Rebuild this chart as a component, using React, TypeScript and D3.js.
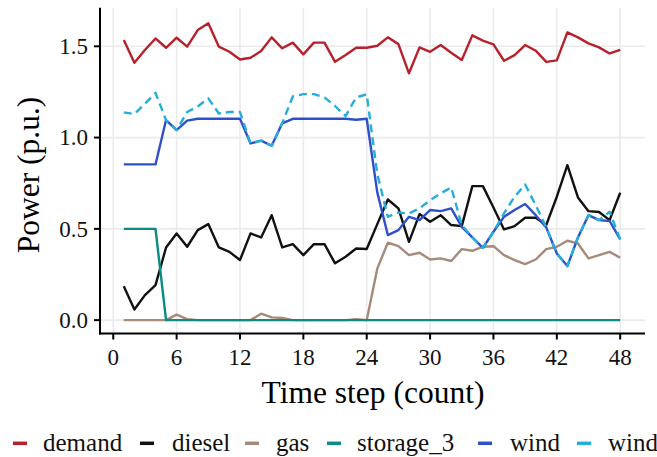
import React from "react";
import * as d3 from "d3";

const timeSteps = [1,2,3,4,5,6,7,8,9,10,11,12,13,14,15,16,17,18,19,20,21,22,23,24,25,26,27,28,29,30,31,32,33,34,35,36,37,38,39,40,41,42,43,44,45,46,47,48];

const demand = [1.534,1.41,1.48,1.543,1.492,1.547,1.498,1.589,1.626,1.498,1.47,1.428,1.437,1.474,1.549,1.489,1.52,1.456,1.52,1.52,1.415,1.452,1.492,1.492,
  1.503,1.549,1.512,1.352,1.494,1.47,1.507,1.465,1.425,1.56,1.531,1.511,1.421,1.452,1.507,1.476,1.415,1.423,1.576,1.549,1.516,1.494,1.461,1.48];

const diesel = [0.186,0.058,0.137,0.192,0.398,0.475,0.402,0.493,0.526,0.398,0.374,0.329,0.475,0.453,0.575,0.398,0.416,0.356,0.416,0.416,0.311,0.347,0.392,0.39,
  0.526,0.661,0.612,0.429,0.581,0.539,0.575,0.521,0.515,0.734,0.734,0.617,0.497,0.515,0.561,0.561,0.521,0.676,0.849,0.672,0.597,0.592,0.548,0.698];

const gas = [0,0,0,0,0,0.03,0.005,0,0,0,0,0,0,0.035,0.015,0.012,0,0,0,0,0,0,0.005,0,
  0.282,0.424,0.405,0.356,0.369,0.332,0.338,0.324,0.389,0.38,0.402,0.405,0.356,0.329,0.307,0.332,0.389,0.402,0.435,0.42,0.338,0.356,0.374,0.342];

const storage3 = [0.5,0.5,0.5,0.5,0,0,0,0,0,0,0,0,0,0,0,0,0,0,0,0,0,0,0,0,
  0,0,0,0,0,0,0,0,0,0,0,0,0,0,0,0,0,0,0,0,0,0,0,0];

const wind = [0.853,0.853,0.853,0.853,1.096,1.041,1.093,1.103,1.103,1.103,1.103,1.103,0.968,0.983,0.955,1.078,1.103,1.103,1.103,1.103,1.103,1.103,1.098,1.103,
  0.70,0.466,0.493,0.566,0.548,0.603,0.597,0.612,0.511,0.453,0.396,0.484,0.566,0.603,0.636,0.575,0.508,0.365,0.296,0.453,0.575,0.548,0.543,0.442];

const windForecast = [1.138,1.129,1.185,1.245,1.096,1.041,1.14,1.17,1.215,1.132,1.14,1.14,0.968,0.983,0.955,1.08,1.225,1.238,1.238,1.22,1.173,1.118,1.22,1.237,
  0.80,0.566,0.59,0.584,0.612,0.657,0.694,0.727,0.521,0.453,0.396,0.484,0.585,0.676,0.743,0.63,0.508,0.365,0.296,0.453,0.575,0.548,0.594,0.442];

const xTicks = [0, 6, 12, 18, 24, 30, 36, 42, 48];
const yTicks = [0, 0.5, 1.0, 1.5];

const seriesNames = ["demand", "diesel", "gas", "storage_3", "wind", "wind"];
const seriesColors = ["#B7212B", "#111111", "#A68A7A", "#0B8A88", "#2E50C8", "#23AEDC"];
const seriesDash = [null, null, null, null, null, "8,5"];
const seriesData = [demand, diesel, gas, storage3, wind, windForecast];

const legendKeyX = [13, 140, 245, 327, 478, 577];
const legendTextX = [43, 172, 276, 357, 510, 608];

const FONT = "Liberation Serif";

export default function App() {
  const W = 657, H = 457;
  const x = d3.scaleLinear().domain([-1.35, 50.35]).range([99, 645]);
  const y = d3.scaleLinear().domain([-0.0815, 1.7115]).range([335, 7.7]);
  const line = d3.line<number>().x((_, i) => x(timeSteps[i])).y((d) => y(d));
  const axisY = 333.5;
  const axisX = 100;

  return (
    <svg width={W} height={H} style={{ position: "absolute", left: 0, top: 0, background: "#fff" }}>
      <rect x={0} y={0} width={W} height={H} fill="#fff" />
      {xTicks.map((t) => (
        <line key={"gx" + t} x1={x(t)} x2={x(t)} y1={7.7} y2={axisY} stroke="#EBEBEB" strokeWidth={1.6} />
      ))}
      {yTicks.map((t) => (
        <line key={"gy" + t} x1={axisX} x2={645} y1={y(t)} y2={y(t)} stroke="#EBEBEB" strokeWidth={1.6} />
      ))}
      {seriesData.map((s, i) => (
        <path key={"s" + i} d={line(s) || ""} fill="none" stroke={seriesColors[i]} strokeWidth={2.4}
          strokeDasharray={seriesDash[i] || undefined} strokeLinejoin="round" />
      ))}
      <line x1={axisX} x2={axisX} y1={7.7} y2={axisY + 1} stroke="#000" strokeWidth={2} />
      <line x1={axisX - 1} x2={645} y1={axisY} y2={axisY} stroke="#000" strokeWidth={2} />
      {xTicks.map((t) => (
        <g key={"tx" + t}>
          <line x1={x(t)} x2={x(t)} y1={axisY} y2={axisY + 6} stroke="#000" strokeWidth={2} />
          <text x={x(t)} y={365} textAnchor="middle" fontFamily={FONT} fontSize={23} fill="#111">{t}</text>
        </g>
      ))}
      {yTicks.map((t) => (
        <g key={"ty" + t}>
          <line x1={axisX - 6} x2={axisX} y1={y(t)} y2={y(t)} stroke="#000" strokeWidth={2} />
          <text x={88} y={y(t)} dy="0.34em" textAnchor="end" fontFamily={FONT} fontSize={23} fill="#111">{t.toFixed(1)}</text>
        </g>
      ))}
      <text x={373} y={403} textAnchor="middle" fontFamily={FONT} fontSize={31.5} fill="#000">Time step (count)</text>
      <text transform={`translate(39,${175}) rotate(-90)`} textAnchor="middle" fontFamily={FONT} fontSize={31.5} fill="#000">Power (p.u.)</text>
      {seriesNames.map((n, i) => (
        <g key={"lg" + i}>
          <line x1={legendKeyX[i]} x2={legendKeyX[i] + 14} y1={443.3} y2={443.3} stroke={seriesColors[i]} strokeWidth={3.5} />
          <text x={legendTextX[i]} y={451} fontFamily={FONT} fontSize={25} fill="#111">{n}</text>
        </g>
      ))}
    </svg>
  );
}
